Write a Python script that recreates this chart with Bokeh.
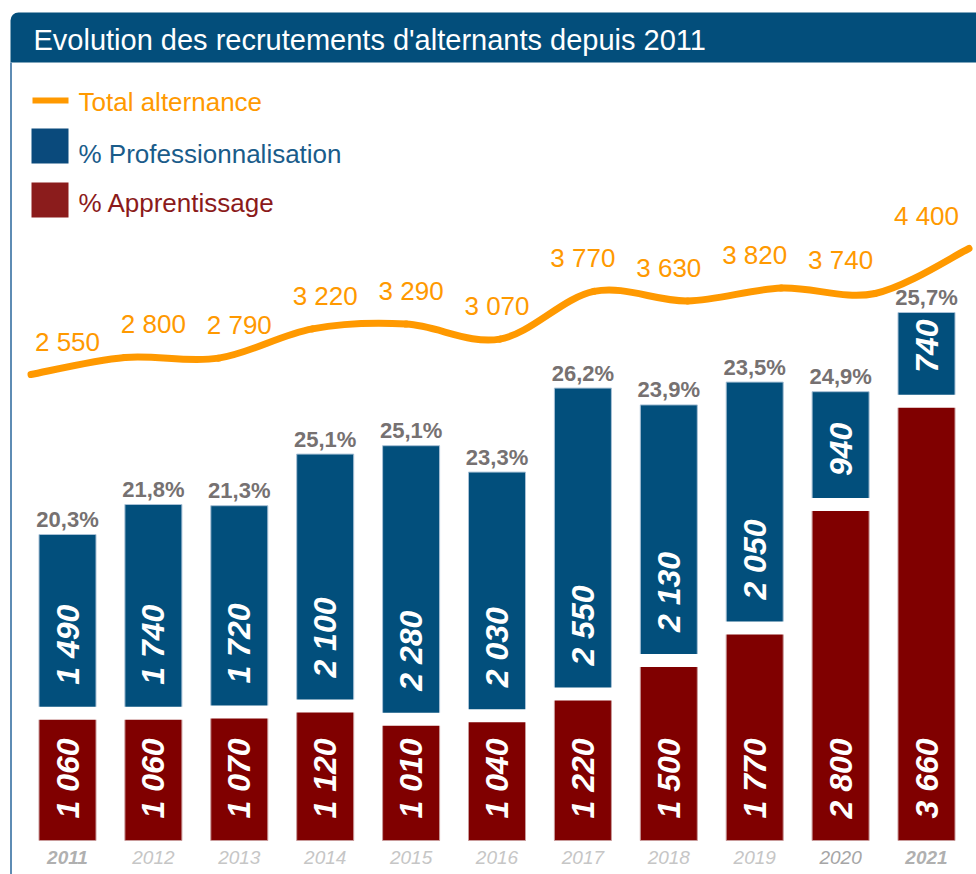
from math import pi
from bokeh.plotting import figure
from bokeh.models import Range1d, ColumnDataSource
from bokeh.core.properties import value
from bokeh.embed import file_html
from bokeh.resources import INLINE

# ---- data ----
years = ["2011", "2012", "2013", "2014", "2015", "2016", "2017", "2018", "2019", "2020", "2021"]
apprentissage = [1060, 1060, 1070, 1120, 1010, 1040, 1220, 1500, 1770, 2800, 3660]
professionnalisation = [1490, 1740, 1720, 2100, 2280, 2030, 2550, 2130, 2050, 940, 740]
total_alternance = [2550, 2800, 2790, 3220, 3290, 3070, 3770, 3630, 3820, 3740, 4400]
pct_labels = ["20,3%", "21,8%", "21,3%", "25,1%", "25,1%", "23,3%", "26,2%", "23,9%", "23,5%", "24,9%", "25,7%"]

title_text = "Evolution des recrutements d'alternants depuis 2011"
legend_line = "Total alternance"
legend_pro = "% Professionnalisation"
legend_app = "% Apprentissage"

# ---- styling ----
BLUE = "#024F7C"
RED = "#800000"
ORANGE = "#FF9900"
HEADER = "#034E7B"
GRAY_PCT = "#767171"
FONT = "Liberation Sans"

W, H = 976, 874
BASE_PX = 840          # pixel row of zero for the bars
K = 0.12               # px per unit for bars
STEP = 85.9            # px between bar centers
X0 = 67                # px of first bar center
LSTEP = 93.8           # px between line points
LX0 = 30.5
LK = 0.0681            # px per unit for the line
LREF_V, LREF_PX = 2550, 374

def fmt(v):
    return f"{v:,}".replace(",", " ")

n = len(years)
idx = list(range(n))

p = figure(width=W, height=H,
           x_range=Range1d(-X0 / STEP, (W - X0) / STEP),
           y_range=Range1d(-(H - BASE_PX) / K, BASE_PX / K),
           output_backend="svg", toolbar_location=None,
           x_axis_location=None, y_axis_location=None, min_border=0)
p.grid.visible = False
p.outline_line_color = None
p.background_fill_color = "white"
p.border_fill_color = "white"

line_end = LREF_V + LREF_PX / LK
p.extra_x_ranges = {"px": Range1d(0, W), "line": Range1d(-LX0 / LSTEP, (W - LX0) / LSTEP)}
p.extra_y_ranges = {"px": Range1d(H, 0), "line": Range1d(line_end - H / LK, line_end)}

# ---- header / frame ----
p.quad(left=[10], right=[W + 8], top=[12], bottom=[62], fill_color=HEADER, line_color=None,
       border_radius=(8, 8, 0, 0), x_range_name="px", y_range_name="px")
p.segment(x0=[10.5], y0=[62], x1=[10.5], y1=[H], line_color="#5E8CB4", line_width=2,
          x_range_name="px", y_range_name="px")
p.text(x=[33], y=[39], text=[title_text], text_color="white", text_font=value(FONT),
       text_font_size="29px", text_align="left", text_baseline="middle",
       x_range_name="px", y_range_name="px")

# ---- legend ----
p.segment(x0=[32], y0=[100], x1=[68], y1=[100], line_color=ORANGE, line_width=6,
          x_range_name="px", y_range_name="px")
p.quad(left=[31], right=[68], top=[128], bottom=[163], fill_color="#0A4A7C", line_color=None,
       x_range_name="px", y_range_name="px")
p.quad(left=[31], right=[68], top=[182], bottom=[217], fill_color="#8B1C1C", line_color=None,
       x_range_name="px", y_range_name="px")
p.text(x=[78, 78, 78], y=[101, 153, 202], text=[legend_line, legend_pro, legend_app],
       text_color=[ORANGE, "#1A5C8A", "#8B1A1A"], text_font=value(FONT), text_font_size="26px",
       text_align="left", text_baseline="middle", x_range_name="px", y_range_name="px")

# ---- bars ----
tops = [a + b for a, b in zip(apprentissage, professionnalisation)]
src = ColumnDataSource(dict(
    x=idx, app=apprentissage, pro=professionnalisation, top=tops,
    app_lbl=[fmt(v) for v in apprentissage],
    pro_lbl=[fmt(v) for v in professionnalisation],
    app_y=[22 / K for _ in apprentissage],
    pro_y=[a + 28.5 / K for a in apprentissage],
    pct=pct_labels, pct_y=[t + 15 / K for t in tops],
))
BW = 57 / STEP
p.vbar(x="x", bottom=0, top="app", width=BW, source=src, fill_color=RED,
       line_color="#C99A9A", line_width=1)
p.vbar(x="x", bottom="app", top="top", width=BW, source=src, fill_color=BLUE,
       line_color="#A9C1D6", line_width=1)
p.rect(x="x", y="app", width=BW + 0.05, height=13, height_units="screen", source=src,
       fill_color="white", line_color=None)

for ycol, tcol in (("app_y", "app_lbl"), ("pro_y", "pro_lbl")):
    p.text(x="x", y=ycol, text=tcol, source=src, angle=pi / 2, text_color="white",
           text_font=value(FONT), text_font_style="bold italic", text_font_size="32px",
           text_align="left", text_baseline="middle")
p.text(x="x", y="pct_y", text="pct", source=src, text_color=GRAY_PCT,
       text_font=value(FONT), text_font_style="bold", text_font_size="22px",
       text_align="center", text_baseline="middle")

# ---- year labels ----
year_y = -17 / K
edge = [0, n - 1]
mid = [i for i in idx if i not in edge]
p.text(x=mid, y=[year_y] * len(mid), text=[years[i] for i in mid],
       text_color=["#A6A6A6" if years[i] == "2020" else "#C6C6C6" for i in mid],
       text_font=value(FONT), text_font_style="italic", text_font_size="19px",
       text_align="center", text_baseline="middle")
p.text(x=edge, y=[year_y] * 2, text=[years[i] for i in edge], text_color="#B0B0B0",
       text_font=value(FONT), text_font_style="bold italic", text_font_size="19px",
       text_align="center", text_baseline="middle")

# ---- smooth total line (cubic Bezier through every point) ----
xs, ys = idx, total_alternance
b = dict(x0=[], y0=[], x1=[], y1=[], cx0=[], cy0=[], cx1=[], cy1=[])
for i in range(n - 1):
    im, ip2 = max(i - 1, 0), min(i + 2, n - 1)
    b["x0"].append(xs[i]); b["y0"].append(ys[i])
    b["x1"].append(xs[i + 1]); b["y1"].append(ys[i + 1])
    b["cx0"].append(xs[i] + (xs[i + 1] - xs[im]) / 6)
    b["cy0"].append(ys[i] + (ys[i + 1] - ys[im]) / 6)
    b["cx1"].append(xs[i + 1] - (xs[ip2] - xs[i]) / 6)
    b["cy1"].append(ys[i + 1] - (ys[ip2] - ys[i]) / 6)
p.bezier(source=ColumnDataSource(b), x0="x0", y0="y0", x1="x1", y1="y1",
         cx0="cx0", cy0="cy0", cx1="cx1", cy1="cy1",
         line_color=ORANGE, line_width=7, line_cap="round",
         x_range_name="line", y_range_name="line")

p.text(x=idx, y=[v + 33 / LK for v in total_alternance], text=[fmt(v) for v in total_alternance],
       text_color=ORANGE, text_font=value(FONT), text_font_size="26px",
       text_align="center", text_baseline="middle", y_range_name="line")

open("out.html", "w").write(file_html(p, INLINE))
